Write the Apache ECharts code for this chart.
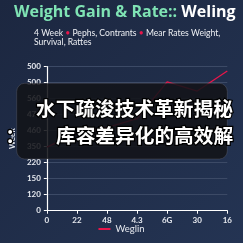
<!DOCTYPE html>
<html><head><meta charset="utf-8">
<script src="https://cdn.jsdelivr.net/npm/echarts@6/dist/echarts.min.js"></script>
<style>html,body{margin:0;padding:0;background:#1f2b45;}#c{width:243px;height:243px;}</style>
</head><body><div id="c"></div>
<script>
const categories = ['0','22','48','4.3','6G','30','16'];
const yTickLabels = ['0','120','150','220','350','460','470','560','500','500'];
const seriesName = 'Weglin';
const seriesValues = [3.97, 4.85, 5.2, 5.75, 8.05, 7.48, 8.73];
const titleA = 'Weight Gain & Rate:: ';
const titleB = 'Weling';
const subLine1 = ['4 Week ', ' Pephs, Contrants ', ' Mear Rates Weight,'];
const subLine2 = 'Survival, Rattes';
const overlayColon = '：';
const overlayLine1 = '水下疏浚技术革新揭秘';
const overlayLine2 = '库容差异化的高效解';
const yName = 'Week';

const chart = echarts.init(document.getElementById('c'));
chart.setOption({
  backgroundColor: new echarts.graphic.LinearGradient(0,0,1,1,[{offset:0,color:'#1c2740'},{offset:1,color:'#243453'}]),
  animation:false,
  grid:{left:40.3,right:15.7,top:66.7,bottom:32.3},
  xAxis:{type:'category',data:categories,boundaryGap:false,
    axisLine:{lineStyle:{color:'#ffffff',width:1.2}},
    axisTick:{show:true,alignWithLabel:true,length:3,lineStyle:{color:'#ffffff'}},
    axisLabel:{color:'#e6e9ef',fontSize:8,fontFamily:'Lato',fontWeight:'bold',margin:6},
    splitLine:{show:false}},
  yAxis:{type:'value',min:0,max:9,interval:1,name:yName,nameLocation:'middle',nameGap:26,
    nameTextStyle:{color:'#e6e9ef',fontSize:8,fontFamily:'Lato',fontWeight:'bold'},
    axisLine:{show:true,lineStyle:{color:'#ffffff',width:1.2}},
    axisTick:{show:true,length:3,lineStyle:{color:'#ffffff'}},
    axisLabel:{color:'#e6e9ef',fontSize:8,fontFamily:'Lato',fontWeight:'bold',margin:6,formatter:(v)=>yTickLabels[Math.round(v)]},
    splitLine:{lineStyle:{color:'#3c4a66',width:1}}},
  legend:{bottom:4,left:'center',itemWidth:12,itemHeight:2,icon:'rect',
    textStyle:{color:'#e6e9ef',fontSize:9.5,fontFamily:'Lato'},data:[seriesName]},
  series:[{name:seriesName,type:'line',data:seriesValues,symbol:'none',
    lineStyle:{color:'#e8164a',width:1.3},itemStyle:{color:'#e8164a'}}],
  graphic:[
    {type:'text',left:14,top:4.5,style:{rich:{a:{fill:'#7fe3b4',fontSize:16,fontWeight:'bold',fontFamily:'Open Sans'},b:{fill:'#ffffff',fontSize:16,fontWeight:'bold',fontFamily:'Open Sans'}},text:'{a|'+titleA+'}{b|'+titleB+'}'}},
    {type:'text',left:34,top:28.5,style:{rich:{t:{fill:'#eef0f4',fontSize:8.6,fontFamily:'Lato'},d:{fill:'#e8164a',fontSize:8.6,fontFamily:'Lato'}},
      text:'{t|'+subLine1[0]+'}{d|•}{t|'+subLine1[1]+'}{d|•}{t|'+subLine1[2]+'}'}},
    {type:'text',left:34,top:38,style:{fill:'#eef0f4',fontSize:8.6,fontFamily:'Lato',text:subLine2}},
    {type:'rect',shape:{x:16.7,y:83.3,width:210.6,height:75.7,r:8},style:{fill:'rgba(18,19,24,0.88)',stroke:'rgba(120,120,130,0.5)',lineWidth:0.6},z:100},
    {type:'text',x:36,y:109,z:101,style:{text:overlayLine1,fill:'#ffffff',fontSize:19.7,fontWeight:'bold',fontFamily:'Noto Sans CJK SC',stroke:'#000',lineWidth:2.5,textVerticalAlign:'middle'}},
    {type:'text',x:15,y:136,z:101,style:{text:overlayColon,fill:'#ffffff',fontSize:19.7,fontWeight:'bold',fontFamily:'Noto Sans CJK SC',stroke:'#000',lineWidth:2.5,textAlign:'center',textVerticalAlign:'middle'}},
    {type:'text',x:56,y:136,z:101,style:{text:overlayLine2,fill:'#ffffff',fontSize:19.7,fontWeight:'bold',fontFamily:'Noto Sans CJK SC',stroke:'#000',lineWidth:2.5,textVerticalAlign:'middle'}}
  ]
});
</script></body></html>
